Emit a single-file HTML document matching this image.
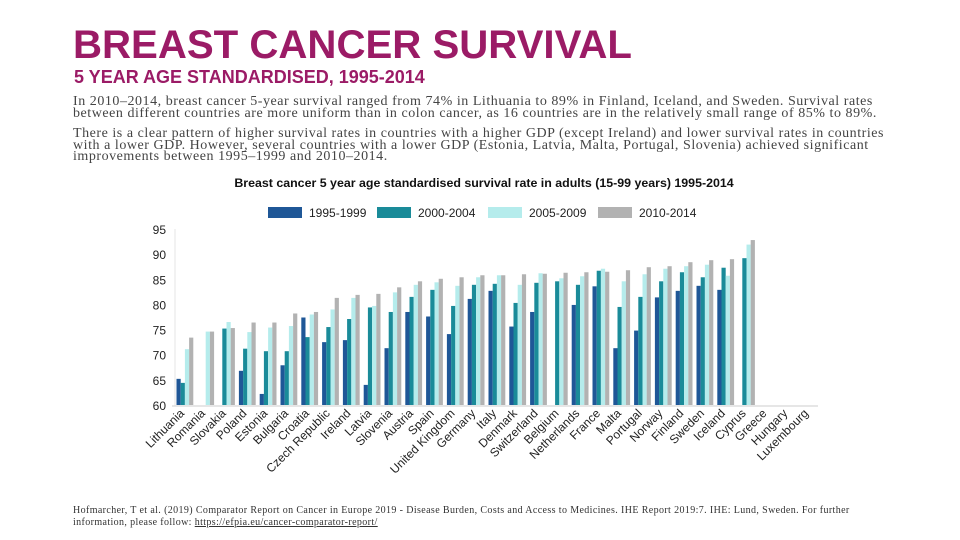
<!DOCTYPE html>
<html><head><meta charset="utf-8"><style>
body{margin:0;width:960px;height:540px;background:#fff;position:relative;overflow:hidden;font-family:"Liberation Sans",sans-serif}
.t{position:absolute;left:73px;top:22px;font-size:40.2px;font-weight:bold;color:#9b1b66;margin:0}
.s{position:absolute;left:74px;top:67px;font-size:18px;font-weight:bold;color:#9b1b66;margin:0}
.p{position:absolute;left:73px;white-space:nowrap;font-family:"Liberation Serif",serif;font-size:14px;letter-spacing:0.54px;line-height:11.5px;color:#444;margin:0}
.f{position:absolute;left:73px;top:505px;white-space:nowrap;font-family:"Liberation Serif",serif;font-size:10px;letter-spacing:0.38px;line-height:12px;color:#333}
.f a{color:#333;text-decoration:underline}
svg{position:absolute;left:0;top:0}
</style></head><body>
<h1 class="t">BREAST CANCER SURVIVAL</h1>
<h2 class="s">5 YEAR AGE STANDARDISED, 1995-2014</h2>
<p class="p" style="top:96px">In 2010–2014, breast cancer 5-year survival ranged from 74% in Lithuania to 89% in Finland, Iceland, and Sweden. Survival rates<br>between different countries are more uniform than in colon cancer, as 16 countries are in the relatively small range of 85% to 89%.</p>
<p class="p" style="top:128px">There is a clear pattern of higher survival rates in countries with a higher GDP (except Ireland) and lower survival rates in countries<br>with a lower GDP. However, several countries with a lower GDP (Estonia, Latvia, Malta, Portugal, Slovenia) achieved significant<br>improvements between 1995–1999 and 2010–2014.</p>
<div class="f">Hofmarcher, T et al. (2019) Comparator Report on Cancer in Europe 2019 - Disease Burden, Costs and Access to Medicines. IHE Report 2019:7. IHE: Lund, Sweden. For further<br>information, please follow: <a>https://efpia.eu/cancer-comparator-report/</a></div>
<svg id="c" width="960" height="540"></svg>
<script>
const categories=["Lithuania","Romania","Slovakia","Poland","Estonia","Bulgaria","Croatia","Czech Republic","Ireland","Latvia","Slovenia","Austria","Spain","United Kingdom","Germany","Italy","Denmark","Switzerland","Belgium","Netherlands","France","Malta","Portugal","Norway","Finland","Sweden","Iceland","Cyprus","Greece","Hungary","Luxembourg"];
const s1995=[65.2,null,null,66.8,62.2,67.9,77.4,72.5,72.9,64.0,71.3,78.5,77.6,74.1,81.1,82.7,75.6,78.5,null,79.9,83.6,71.3,74.8,81.4,82.7,83.7,82.9,null,null,null,null];
const s2000=[64.4,null,75.2,71.2,70.7,70.7,73.5,75.5,77.1,79.4,78.5,81.5,82.9,79.7,83.9,84.1,80.3,84.3,84.6,83.9,86.7,79.5,81.5,84.6,86.4,85.4,87.3,89.2,null,null,null];
const s2005=[71.1,74.6,76.5,74.5,75.4,75.7,78.0,79.0,81.3,79.7,82.4,83.9,84.4,83.7,85.4,85.8,83.9,86.2,85.2,85.6,87.1,84.6,86.0,87.1,87.6,87.9,85.7,91.9,null,null,null];
const s2010=[73.4,74.6,75.3,76.4,76.4,78.2,78.5,81.3,81.9,82.1,83.4,84.6,85.1,85.4,85.8,85.8,86.0,86.1,86.3,86.4,86.5,86.8,87.4,87.6,88.4,88.8,89.0,92.8,null,null,null];
const yTicks=[60,65,70,75,80,85,90,95];
const seriesNames=["1995-1999","2000-2004","2005-2009","2010-2014"];
const colors=["#1f5797","#1a8b99","#b5ecec","#b2b2b2"];
const NS="http://www.w3.org/2000/svg";
const svg=document.getElementById('c');
function mk(t,a,p){const e=document.createElementNS(NS,t);for(const k in a)e.setAttribute(k,a[k]);(p||svg).appendChild(e);return e;}
const y=v=>405-(v-60)*(176/35);
const band=20.8,x0=172;
const x=i=>x0+i*band;
const title=mk('text',{x:484,y:187,'text-anchor':'middle','font-size':12.4,'font-weight':'bold',fill:'#111'});
title.textContent="Breast cancer 5 year age standardised survival rate in adults (15-99 years) 1995-2014";


const lx=[268,377,488,598];
seriesNames.forEach((n,i)=>{
 const g=mk('g',{});
 
 
 mk('rect',{x:lx[i],y:207,width:34,height:11,fill:colors[i]},g);
 const t=mk('text',{x:lx[i]+41,y:217,'font-size':12,fill:'#222'},g);t.textContent=n;
});
mk('line',{x1:175,y1:229,x2:175,y2:406,stroke:'#e6e6e6'});
mk('line',{x1:172,y1:406,x2:818,y2:406,stroke:'#ddd','stroke-width':1.5});
yTicks.forEach(v=>{
 const t=mk('text',{x:166,y:y(v)+5,'text-anchor':'end','font-size':12,fill:'#222'});
 t.textContent=v;
 
 
});
const series=[s1995,s2000,s2005,s2010];
categories.forEach((c,i)=>{
 series.forEach((s,k)=>{
  if(s[i]==null)return;
  const r=mk('rect',{x:x(i)+4.5+k*4.2,y:y(s[i]),width:4.2,height:405-y(s[i]),fill:colors[k]});
  
  
 });
 const cx=x(i)+13;
 const t=mk('text',{x:cx,y:414,'text-anchor':'end','font-size':12,fill:'#222',transform:`rotate(-45 ${cx} 414)`});
 t.textContent=c;
 
 
});
</script>
</body></html>
